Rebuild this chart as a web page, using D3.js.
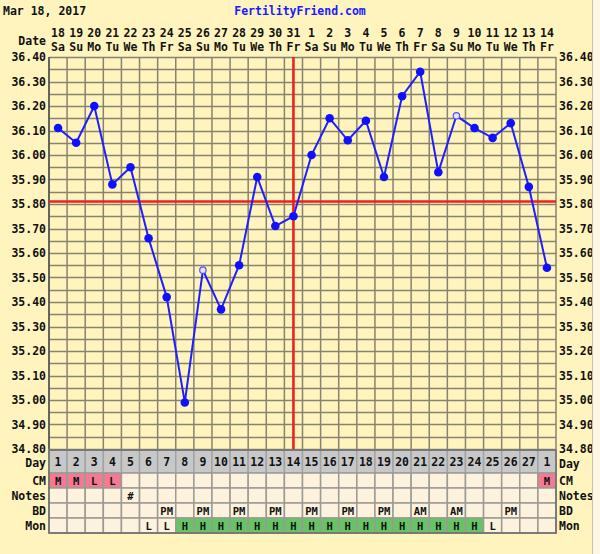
<!DOCTYPE html>
<html>
<head>
<meta charset="utf-8">
<script src="https://cdn.jsdelivr.net/npm/d3@7/dist/d3.min.js"></script>
<style>
  body { margin: 0; background: #fdf6e2; }
  svg text { font-family: "DejaVu Sans Mono", monospace; font-weight: bold; font-size: 11.5px; }
</style>
</head>
<body>
<svg width="600" height="554"></svg>
<script>
// datos del grafico
const dates = [18,19,20,21,22,23,24,25,26,27,28,29,30,31,1,2,3,4,5,6,7,8,9,10,11,12,13,14];
const weekdays = ["Sa","Su","Mo","Tu","We","Th","Fr","Sa","Su","Mo","Tu","We","Th","Fr",
                  "Sa","Su","Mo","Tu","We","Th","Fr","Sa","Su","Mo","Tu","We","Th","Fr"];
const temps = [36.11,36.05,36.20,35.88,35.95,35.66,35.42,34.99,35.53,35.37,35.55,35.91,35.71,35.75,
               36.00,36.15,36.06,36.14,35.91,36.24,36.34,35.93,36.16,36.11,36.07,36.13,35.87,35.54];
const openPoints = [8, 22]; // temperaturas con circulo hueco
const cycleDays = [1,2,3,4,5,6,7,8,9,10,11,12,13,14,15,16,17,18,19,20,21,22,23,24,25,26,27,1];
const cm    = ["M","M","L","L","","","","","","","","","","","","","","","","","","","","","","","","M"];
const notes = ["","","","","#","","","","","","","","","","","","","","","","","","","","","","",""];
const bd    = ["","","","","","","PM","","PM","","PM","","PM","","PM","","PM","","PM","","AM","","AM","","","PM","",""];
const mon   = ["","","","","","L","L","H","H","H","H","H","H","H","H","H","H","H","H","H","H","H","H","H","L","","",""];
const coverline = 35.81;
const ovulationIndex = 13; // linea vertical roja
const yTicks = [34.8,34.9,35.0,35.1,35.2,35.3,35.4,35.5,35.6,35.7,35.8,35.9,36.0,36.1,36.2,36.3,36.4];

const svg = d3.select("svg");

const x = d3.scaleBand().domain(d3.range(dates.length)).range([49, 556]);
const y = d3.scaleLinear().domain([34.8, 36.4]).range([449, 57]);

// fondo
svg.append("rect").attr("width", 592).attr("height", 554).attr("fill", "#fff4be");

// titulo
svg.append("text").attr("x", 3).attr("y", 15).attr("fill", "#111").text("Mar 18, 2017");
svg.append("text").attr("x", 300).attr("y", 15).attr("text-anchor", "middle")
  .attr("fill", "#1a1aff").text("FertilityFriend.com");

// cabecera de fechas
const head = svg.append("g");
head.selectAll(".dnum").data(dates).join("text")
  .attr("x", (d, i) => x(i) + x.bandwidth() / 2).attr("y", 37)
  .attr("text-anchor", "middle").attr("fill", "#111").text(d => d);
head.selectAll(".wday").data(weekdays).join("text")
  .attr("x", (d, i) => x(i) + x.bandwidth() / 2).attr("y", 51)
  .attr("text-anchor", "middle").attr("fill", "#111").text(d => d);
head.append("text").attr("x", 46).attr("y", 45).attr("text-anchor", "end").attr("fill", "#111").text("Date");

// grilla
const grid = svg.append("g");
grid.selectAll(".h").data(d3.range(0, 33).map(i => 34.8 + i * 0.05)).join("line")
  .attr("x1", 49).attr("x2", 556)
  .attr("y1", d => Math.round(y(d)) + 0.5).attr("y2", d => Math.round(y(d)) + 0.5)
  .attr("stroke", "#88836f").attr("stroke-width", 1.5);
grid.selectAll(".v").data(d3.range(dates.length + 1)).join("line")
  .attr("x1", i => (i < dates.length ? x(i) : 556)).attr("x2", i => (i < dates.length ? x(i) : 556))
  .attr("y1", 57).attr("y2", 449)
  .attr("stroke", "#88836f").attr("stroke-width", 1.5);
grid.append("line").attr("x1", 49).attr("x2", 49).attr("y1", 57).attr("y2", 449)
  .attr("stroke", "#555").attr("stroke-width", 1.6);

// ejes
const yAxisL = d3.axisLeft(y).tickValues(yTicks).tickFormat(d3.format(".2f")).tickSize(0).tickPadding(3);
const yAxisR = d3.axisRight(y).tickValues(yTicks).tickFormat(d3.format(".2f")).tickSize(0).tickPadding(3);
svg.append("g").attr("transform", "translate(49,0)").call(yAxisL)
  .call(g => g.select(".domain").remove())
  .selectAll("text").attr("fill", "#111").style("font-size", "11.5px").style("font-family", "DejaVu Sans Mono");
svg.append("g").attr("transform", "translate(556,0)").call(yAxisR)
  .call(g => g.select(".domain").remove())
  .selectAll("text").attr("fill", "#111").style("font-size", "11.5px").style("font-family", "DejaVu Sans Mono");

// lineas rojas
svg.append("line").attr("x1", 49).attr("x2", 556).attr("y1", y(coverline)).attr("y2", y(coverline))
  .attr("stroke", "#f02020").attr("stroke-width", 2.6);
svg.append("line")
  .attr("x1", x(ovulationIndex) + x.bandwidth() / 2).attr("x2", x(ovulationIndex) + x.bandwidth() / 2)
  .attr("y1", 57).attr("y2", 449)
  .attr("stroke", "#f02020").attr("stroke-width", 2.6);

// linea de temperaturas
const line = d3.line().x((d, i) => x(i) + x.bandwidth() / 2).y(d => y(d));
svg.append("path").datum(temps).attr("d", line)
  .attr("fill", "none").attr("stroke", "#1e1eff").attr("stroke-width", 2);

svg.selectAll(".pt").data(temps).join("circle")
  .attr("cx", (d, i) => x(i) + x.bandwidth() / 2).attr("cy", d => y(d))
  .attr("r", (d, i) => openPoints.includes(i) ? 3.2 : 4.3)
  .attr("fill", (d, i) => openPoints.includes(i) ? "#e8e4f4" : "#1010ff")
  .attr("stroke", (d, i) => openPoints.includes(i) ? "#5050ff" : "none")
  .attr("stroke-width", 1.2);

// tabla inferior
const rows = [
  { label: "Day",   vals: cycleDays, top: 450, h: 23 },
  { label: "CM",    vals: cm,        top: 473, h: 15 },
  { label: "Notes", vals: notes,     top: 488, h: 15 },
  { label: "BD",    vals: bd,        top: 503, h: 15 },
  { label: "Mon",   vals: mon,       top: 518, h: 15 }
];

function cellFill(row, v) {
  if (row.label === "Day") return "#c8c8c8";
  if (row.label === "CM" && v !== "") return "#f27b93";
  if (row.label === "Mon" && v === "H") return "#66c466";
  return "#fcf2dd";
}

rows.forEach(row => {
  const g = svg.append("g");
  g.selectAll("rect").data(row.vals).join("rect")
    .attr("x", (d, i) => x(i)).attr("y", row.top)
    .attr("width", x.bandwidth()).attr("height", row.h)
    .attr("fill", d => cellFill(row, d))
    .attr("stroke", row.label === "Day" ? "#a4a4a4" : "#9c9a92").attr("stroke-width", 1.5);
  g.selectAll("text").data(row.vals).join("text")
    .attr("x", (d, i) => x(i) + x.bandwidth() / 2).attr("y", row.top + row.h / 2 + 4)
    .attr("text-anchor", "middle").attr("fill", "#111")
    .style("font-size", row.label === "Day" ? "11.5px" : "10.5px")
    .text(d => d);
  svg.append("text").attr("x", 46).attr("y", row.top + row.h / 2 + 4 + (row.label === "Day" ? 1 : 0))
    .attr("text-anchor", "end").attr("fill", "#111").text(row.label);
  svg.append("text").attr("x", 559).attr("y", row.top + row.h / 2 + 4 + (row.label === "Day" ? 2 : 0))
    .attr("fill", "#111").text(row.label);
});

// borde exterior de la tabla
svg.append("rect").attr("x", 49).attr("y", 450).attr("width", 507).attr("height", 83)
  .attr("fill", "none").attr("stroke", "#6e6e6e").attr("stroke-width", 1.6);

// franja derecha fuera de la imagen del grafico
svg.append("rect").attr("x", 592).attr("y", 0).attr("width", 8).attr("height", 554).attr("fill", "#fdf6e2");
svg.append("line").attr("x1", 592.5).attr("x2", 592.5).attr("y1", 0).attr("y2", 554)
  .attr("stroke", "#c9c3ae").attr("stroke-width", 1);
</script>
</body>
</html>
